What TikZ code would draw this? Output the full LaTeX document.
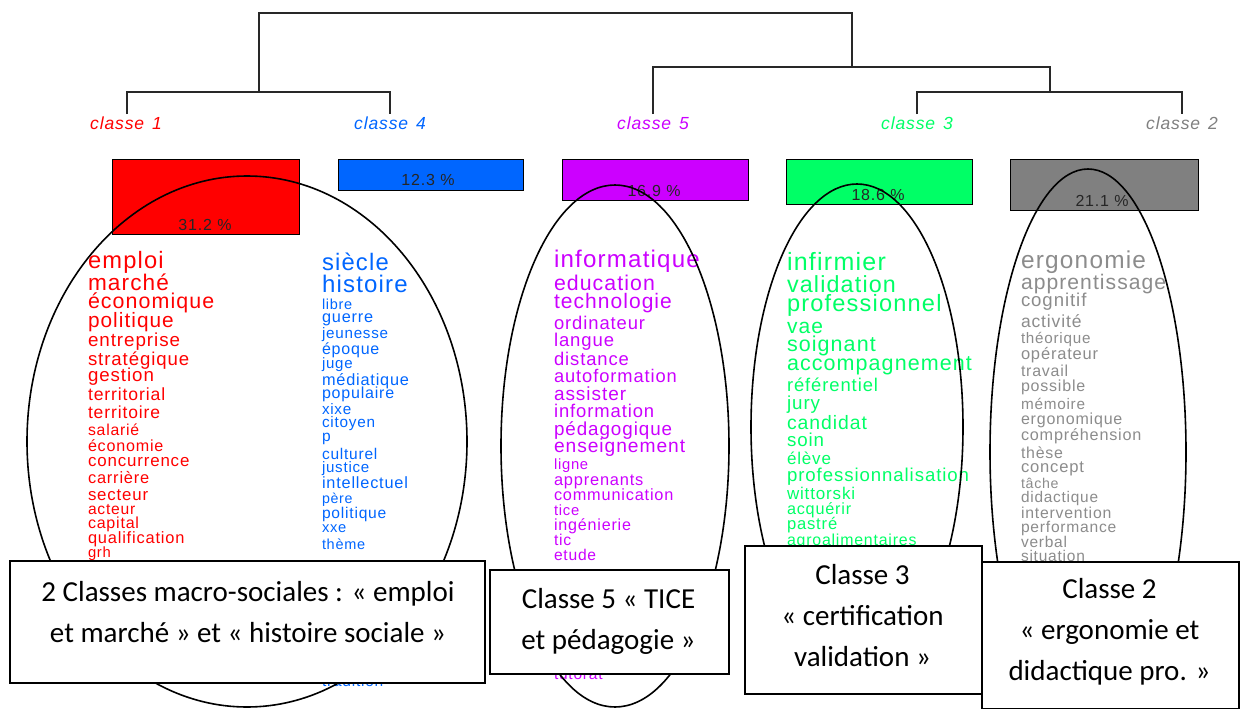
\documentclass[tikz,border=0pt]{standalone}
\usepackage{fontspec}
\setmainfont{Carlito}
\newfontfamily\wfont[LetterSpace=5]{Liberation Sans}
\definecolor{cred}{RGB}{255,0,0}
\definecolor{cblue}{RGB}{0,102,255}
\definecolor{cmag}{RGB}{204,0,255}
\definecolor{cgreen}{RGB}{0,255,102}
\definecolor{cgray}{RGB}{128,128,128}
\definecolor{cgraytxt}{RGB}{140,140,140}
\definecolor{dendro}{RGB}{40,40,40}
\begin{document}
\begin{tikzpicture}[x=1pt,y=-1pt,
  dline/.style={draw=dendro,line width=1.4pt},
  clabel/.style={inner sep=0pt,anchor=mid,font=\wfont\itshape\fontsize{17.5}{17.5}\selectfont},
  cbox/.style={draw=black,line width=1.2pt,inner sep=0pt,anchor=north west},
  pct/.style={inner sep=0pt,anchor=mid,text=black!85,font=\wfont\fontsize{16}{16}\selectfont},
  word/.style={inner sep=0pt,outer sep=0pt,anchor=mid west},
  ell/.style={draw=black,line width=1.6pt},
  tbox/.style={draw=black,line width=1.6pt,fill=white,inner sep=0pt,anchor=north west},
  tlabel/.style={inner sep=0pt,align=center,font=\fontsize{29}{41}\selectfont}]
\path[fill=white] (0,0) rectangle (1248,709);
\useasboundingbox (0,0) rectangle (1248,709);

% dendrogram
\coordinate (top1) at (259,13);
\coordinate (top2) at (852,13);
\coordinate (r532) at (852,67);
\coordinate (j5) at (653,67);
\coordinate (j32) at (1050,67);
\coordinate (j32b) at (1050,92);
\draw[dline] (259,92) -- (top1) -- (top2) -- (r532);
\draw[dline] (127,114) -- (127,92) -- (390,92) -- (390,114);
\draw[dline] (653,114) -- (j5) -- (j32) -- (j32b);
\draw[dline] (917,114) -- (917,92) -- (1182,92) -- (1182,114);

% class labels
\node[clabel,text=cred]   (cl1) at (126,127) {classe\hspace{8pt}1};
\node[clabel,text=cblue]  (cl4) at (390,127) {classe\hspace{8pt}4};
\node[clabel,text=cmag]   (cl5) at (653,127) {classe\hspace{8pt}5};
\node[clabel,text=cgreen] (cl3) at (917,127) {classe\hspace{8pt}3};
\node[clabel,text=cgray]  (cl2) at (1182,127) {classe\hspace{8pt}2};

% coloured boxes
\node[cbox,fill=cred,minimum width=187pt,minimum height=75pt] (b1) at (112,159) {};
\node[cbox,fill=cblue,minimum width=185pt,minimum height=31pt] (b4) at (338,159) {};
\node[cbox,fill=cmag,minimum width=186pt,minimum height=41pt] (b5) at (562,159) {};
\node[cbox,fill=cgreen,minimum width=186pt,minimum height=45pt] (b3) at (786,159) {};
\node[cbox,fill=cgray,minimum width=188pt,minimum height=51pt] (b2) at (1010,159) {};
\node[pct] (p1) at (205,228) {31.2 \%};
\node[pct] (p4) at (428,183) {12.3 \%};
\node[pct] (p5) at (654,194) {16.9 \%};
\node[pct] (p3) at (878,198) {18.6 \%};
\node[pct] (p2) at (1102,204) {21.1 \%};

% class 1 words
\foreach \yy/\ss/\ww [count=\i] in {266/23.7/emploi, 288/22.6/marché, 306/21.4/économique,
  325/20.8/politique, 344/18.8/entreprise, 363/18.6/stratégique, 379/18.7/gestion,
  398/17.6/territorial, 416/17.5/territoire, 433/15.8/salarié, 449/16.1/économie,
  464/16.9/concurrence, 481/16.4/carrière, 498/16.8/secteur, 512/15.6/acteur,
  526/16/capital, 541/16.4/qualification, 555/14.8/grh}
  \node[word,text=cred,font=\wfont\fontsize{\ss}{\ss}\selectfont] (wr\i) at (88,\yy) {\ww};

% class 4 words
\foreach \yy/\ss/\ww [count=\i] in {268/23.8/siècle, 290/24/histoire, 307/14.5/libre,
  320/16.3/guerre, 336/15.2/jeunesse, 352/16/époque, 366/15/juge, 383/16.3/médiatique,
  396/16/populaire, 412/15.2/xixe, 425/15.3/citoyen, 439/15.5/p, 457/15.5/culturel,
  470/15.1/justice, 486/16.3/intellectuel, 501/14.2/père, 516/15.6/politique, 530/14.7/xxe,
  547/14.5/thème, 684/15.5/tradition}
  \node[word,text=cblue,font=\wfont\fontsize{\ss}{\ss}\selectfont] (wb\i) at (322,\yy) {\ww};

% class 5 words
\foreach \yy/\ss/\ww [count=\i] in {265/24.1/informatique, 288/21.3/education,
  306/21/technologie, 327/18.4/ordinateur, 344/18.5/langue, 363/18.4/distance,
  380/18.3/autoformation, 398/19/assister, 415/18.4/information, 433/18.8/pédagogique,
  450/19.2/enseignement, 467/14.8/ligne, 483/16.4/apprenants, 498/16.3/communication,
  513/14.8/tice, 528/16.1/ingénierie, 543/15.7/tic, 558/15.6/etude, 677/15.5/tutorat}
  \node[word,text=cmag,font=\wfont\fontsize{\ss}{\ss}\selectfont] (wm\i) at (554,\yy) {\ww};

% class 3 words
\foreach \yy/\ss/\ww [count=\i] in {268/25/infirmier, 290/23.3/validation,
  309/23.6/professionnel, 331/21/vae, 349/21.5/soignant, 368/21.5/accompagnement,
  389/18.4/référentiel, 407/18.8/jury, 427/19.4/candidat, 444/18.7/soin, 462/17/élève,
  479/18.6/professionnalisation, 497/17/wittorski, 512/16.2/acquérir, 527/16.6/pastré,
  543/15.9/agroalimentaires}
  \node[word,text=cgreen,font=\wfont\fontsize{\ss}{\ss}\selectfont] (wg\i) at (787,\yy) {\ww};

% class 2 words
\foreach \yy/\ss/\ww [count=\i] in {266/24.4/ergonomie, 287/21.1/apprentissage, 304/18.6/cognitif,
  325/17.5/activité, 341/15.2/théorique, 357/16.5/opérateur, 374/15.9/travail,
  389/16/possible, 407/15.3/mémoire, 422/16/ergonomique, 438/16.2/compréhension,
  456/15.9/thèse, 470/16.6/concept, 486/14.2/tâche, 500/15.4/didactique,
  516/15.8/intervention, 530/15.6/performance, 545/15.5/verbal, 559/15.5/situation}
  \node[word,text=cgraytxt,font=\wfont\fontsize{\ss}{\ss}\selectfont] (wy\i) at (1021,\yy) {\ww};

% ellipses
\draw[ell] (247,441.5) ellipse [x radius=220, y radius=265.5];
\draw[ell] (615,446) ellipse [x radius=114, y radius=261];
\draw[ell] (857,427) ellipse [x radius=106, y radius=243];
\draw[ell] (1088,452) ellipse [x radius=98, y radius=283];

% text boxes
\node[tbox,minimum width=475pt,minimum height=122pt] (bA) at (9,560) {};
\node[tbox,minimum width=239pt,minimum height=104pt] (bB) at (489,569) {};
\node[tbox,minimum width=237pt,minimum height=148pt] (bC) at (744,545) {};
\node[tbox,minimum width=257pt,minimum height=147pt] (bD) at (981,561) {};
\node[tlabel] (tA) at (248,612) {2 Classes macro-sociales : « emploi\\et marché » et « histoire sociale »};
\node[tlabel] (tB) at (608.5,621) {Classe 5 « TICE\\et pédagogie »};
\node[tlabel] (tC) at (862.5,616) {Classe 3\\« certification\\validation »};
\node[tlabel] (tD) at (1109.5,632) {Classe 2\\« ergonomie et\\didactique pro. »};
\end{tikzpicture}
\end{document}
